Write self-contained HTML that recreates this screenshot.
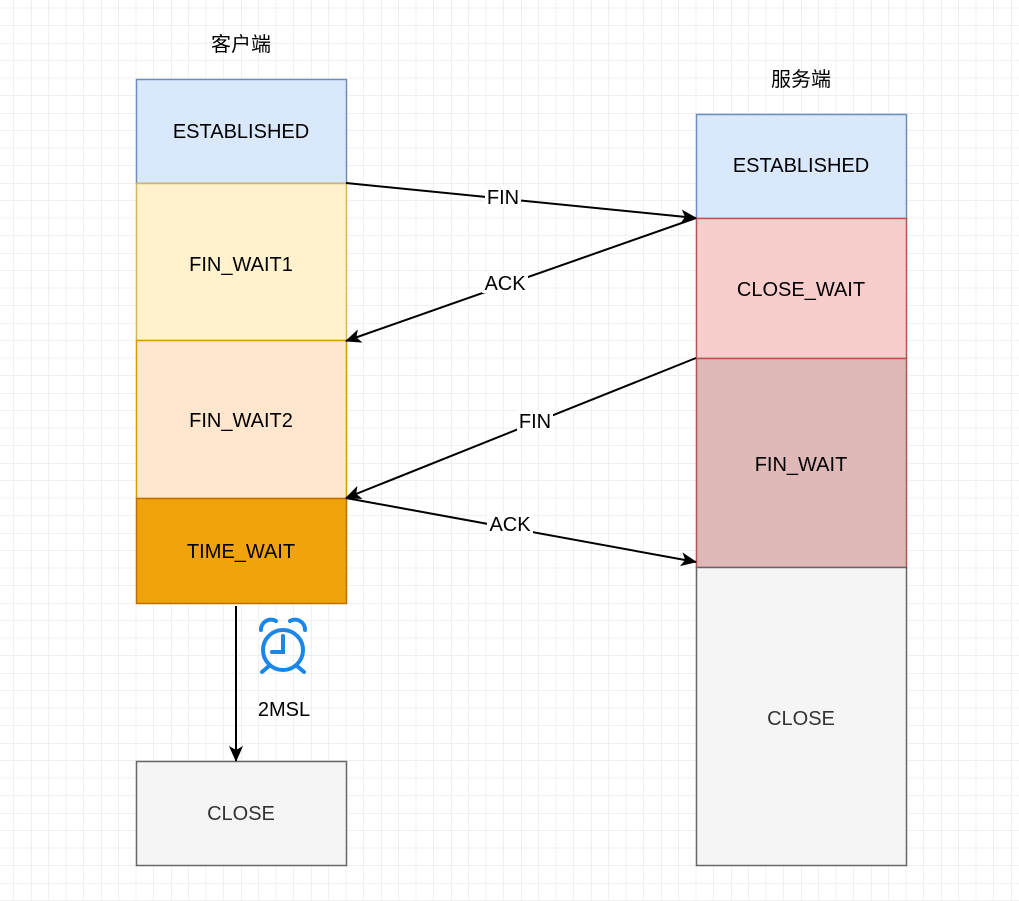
<!DOCTYPE html>
<html><head><meta charset="utf-8"><style>
html,body{margin:0;padding:0;background:#fff;}
svg{display:block;font-family:"Liberation Sans","Noto Sans CJK SC",sans-serif;}
</style></head><body>
<svg width="1019" height="901" viewBox="0 0 1019 901" xmlns="http://www.w3.org/2000/svg">
<defs>
<pattern id="g" x="31" y="43" width="70" height="70" patternUnits="userSpaceOnUse">
<path d="M17.5 0V70M35 0V70M52.5 0V70M0 17.5H70M0 35H70M0 52.5H70" stroke="#f0f0f0" stroke-width="1" fill="none"/>
<path d="M0 0V70M0 0H70" stroke="#e0e0e0" stroke-width="1" fill="none"/>
</pattern>
<marker id="a" markerWidth="16" markerHeight="14" refX="15" refY="7" orient="auto" markerUnits="userSpaceOnUse">
<path d="M0 0L16 7L0 14L4 7Z" fill="#000"/>
</marker>
</defs>
<rect width="1019" height="901" fill="url(#g)"/>
<g font-size="20" text-anchor="middle" fill="#000">
<text x="241" y="51">客户端</text>
<text x="801" y="86">服务端</text>
</g>
<g stroke-width="1.5">
<rect x="136.5" y="79.5" width="210" height="104" fill="#dae8fc" stroke="#6c8ebf"/>
<rect x="136.5" y="183.5" width="210" height="157" fill="#fff2cc" stroke="#d6b656"/>
<rect x="136.5" y="340.5" width="210" height="158" fill="#ffe6cc" stroke="#d79b00"/>
<rect x="136.5" y="498.5" width="210" height="105" fill="#f0a30a" stroke="#bd7000"/>
<rect x="136.5" y="761.5" width="210" height="104" fill="#f5f5f5" stroke="#666"/>
<rect x="696.5" y="114.5" width="210" height="104" fill="#dae8fc" stroke="#6c8ebf"/>
<rect x="696.5" y="218.5" width="210" height="140" fill="#f8cecc" stroke="#b85450"/>
<rect x="696.5" y="358.5" width="210" height="209" fill="#dfb8b8" stroke="#b85450"/>
<rect x="696.5" y="567.5" width="210" height="298" fill="#f5f5f5" stroke="#666"/>
</g>
<g font-size="20" text-anchor="middle">
<text x="241" y="138" fill="#000">ESTABLISHED</text>
<text x="241" y="271" fill="#000">FIN_WAIT1</text>
<text x="241" y="427" fill="#000">FIN_WAIT2</text>
<text x="241" y="558" fill="#000">TIME_WAIT</text>
<text x="241" y="820" fill="#333">CLOSE</text>
<text x="801" y="172" fill="#000">ESTABLISHED</text>
<text x="801" y="296" fill="#000">CLOSE_WAIT</text>
<text x="801" y="471" fill="#000">FIN_WAIT</text>
<text x="801" y="725" fill="#333">CLOSE</text>
</g>
<g stroke="#000" stroke-width="2" fill="none" marker-end="url(#a)">
<line x1="346" y1="183" x2="696" y2="218"/>
<line x1="696" y1="218" x2="346" y2="341"/>
<line x1="696" y1="358" x2="346" y2="498"/>
<line x1="346" y1="498" x2="696" y2="562"/>
<line x1="236" y1="606" x2="236" y2="761"/>
</g>
<g font-size="20" text-anchor="middle">
<rect x="485" y="186" width="36" height="21" fill="#fff"/><text x="503" y="204">FIN</text>
<rect x="482" y="272" width="46" height="21" fill="#fff"/><text x="505" y="290">ACK</text>
<rect x="517" y="410" width="36" height="21" fill="#fff"/><text x="535" y="428">FIN</text>
<rect x="487" y="513" width="46" height="21" fill="#fff"/><text x="510" y="531">ACK</text>
<text x="284" y="716">2MSL</text>
</g>
<g stroke="#1a86e8" stroke-width="4" fill="none" stroke-linecap="round">
<circle cx="283" cy="650" r="20"/>
<path d="M283 636V652H272"/>
<path d="M261 630A10 10 0 0 1 276 621"/>
<path d="M290 621A10 10 0 0 1 305 630"/>
<path d="M269 666L262 672M297 666L304 672"/>
</g>
</svg>
</body></html>
